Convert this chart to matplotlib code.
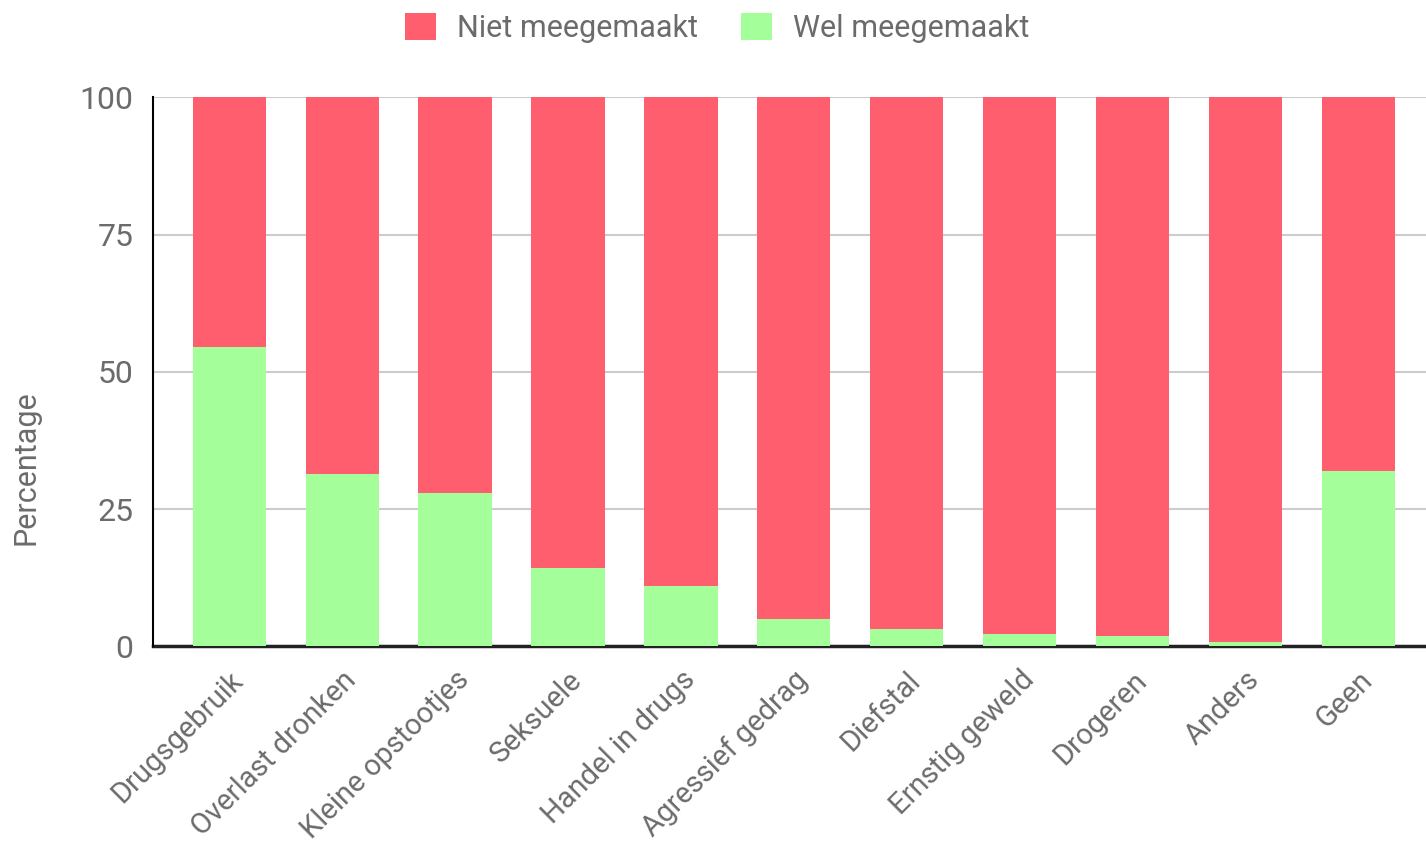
import matplotlib.pyplot as plt

plt.rcParams['font.family'] = ['Roboto', 'DejaVu Sans']

categories = ['Drugsgebruik', 'Overlast dronken', 'Kleine opstootjes', 'Seksuele',
              'Handel in drugs', 'Agressief gedrag', 'Diefstal', 'Ernstig geweld',
              'Drogeren', 'Anders', 'Geen']
wel = [54.5, 31.3, 28.0, 14.2, 10.9, 4.9, 3.1, 2.2, 1.8, 0.7, 31.9]
niet = [100 - v for v in wel]

red = '#ff5e6e'
green = '#a4ff9a'
grey = '#6b6b6b'

fig = plt.figure(figsize=(14.26, 8.47), dpi=100)
ax = fig.add_axes([0.107, 0.237, 0.893, 0.648])

x = range(len(categories))
ax.bar(x, wel, width=0.65, color=green, label='Wel meegemaakt', zorder=3)
ax.bar(x, niet, width=0.65, bottom=wel, color=red, label='Niet meegemaakt', zorder=3)

ax.set_xlim(-0.68, 10.6)
ax.set_ylim(0, 100)
ax.set_yticks([0, 25, 50, 75, 100])
ax.yaxis.grid(True, color='#cccccc', linewidth=1.5, zorder=0)
ax.tick_params(axis='y', length=0, labelsize=23, labelcolor=grey, pad=14)
ax.tick_params(axis='x', length=0, labelsize=21, labelcolor=grey, pad=14)
ax.set_xticks(list(x))
ax.set_xticklabels(categories, rotation=45, ha='right', rotation_mode='anchor')

for s in ['top', 'right']:
    ax.spines[s].set_visible(False)
ax.spines['left'].set_color('black')
ax.spines['left'].set_linewidth(1.5)
ax.spines['bottom'].set_color('#222222')
ax.spines['bottom'].set_linewidth(2.5)
ax.spines['bottom'].set_zorder(2)

ax.set_ylabel('Percentage', fontsize=22, color=grey)
ax.yaxis.set_label_coords(-0.088, 0.326)

h, l = ax.get_legend_handles_labels()
fig.legend([h[1], h[0]], [l[1], l[0]], loc='upper center', bbox_to_anchor=(0.503, 1.017),
           ncol=2, frameon=False, fontsize=22, labelcolor=grey,
           handlelength=1.0, handleheight=1.0, handletextpad=0.7, columnspacing=1.4)

fig.savefig('out.png', dpi=100)
